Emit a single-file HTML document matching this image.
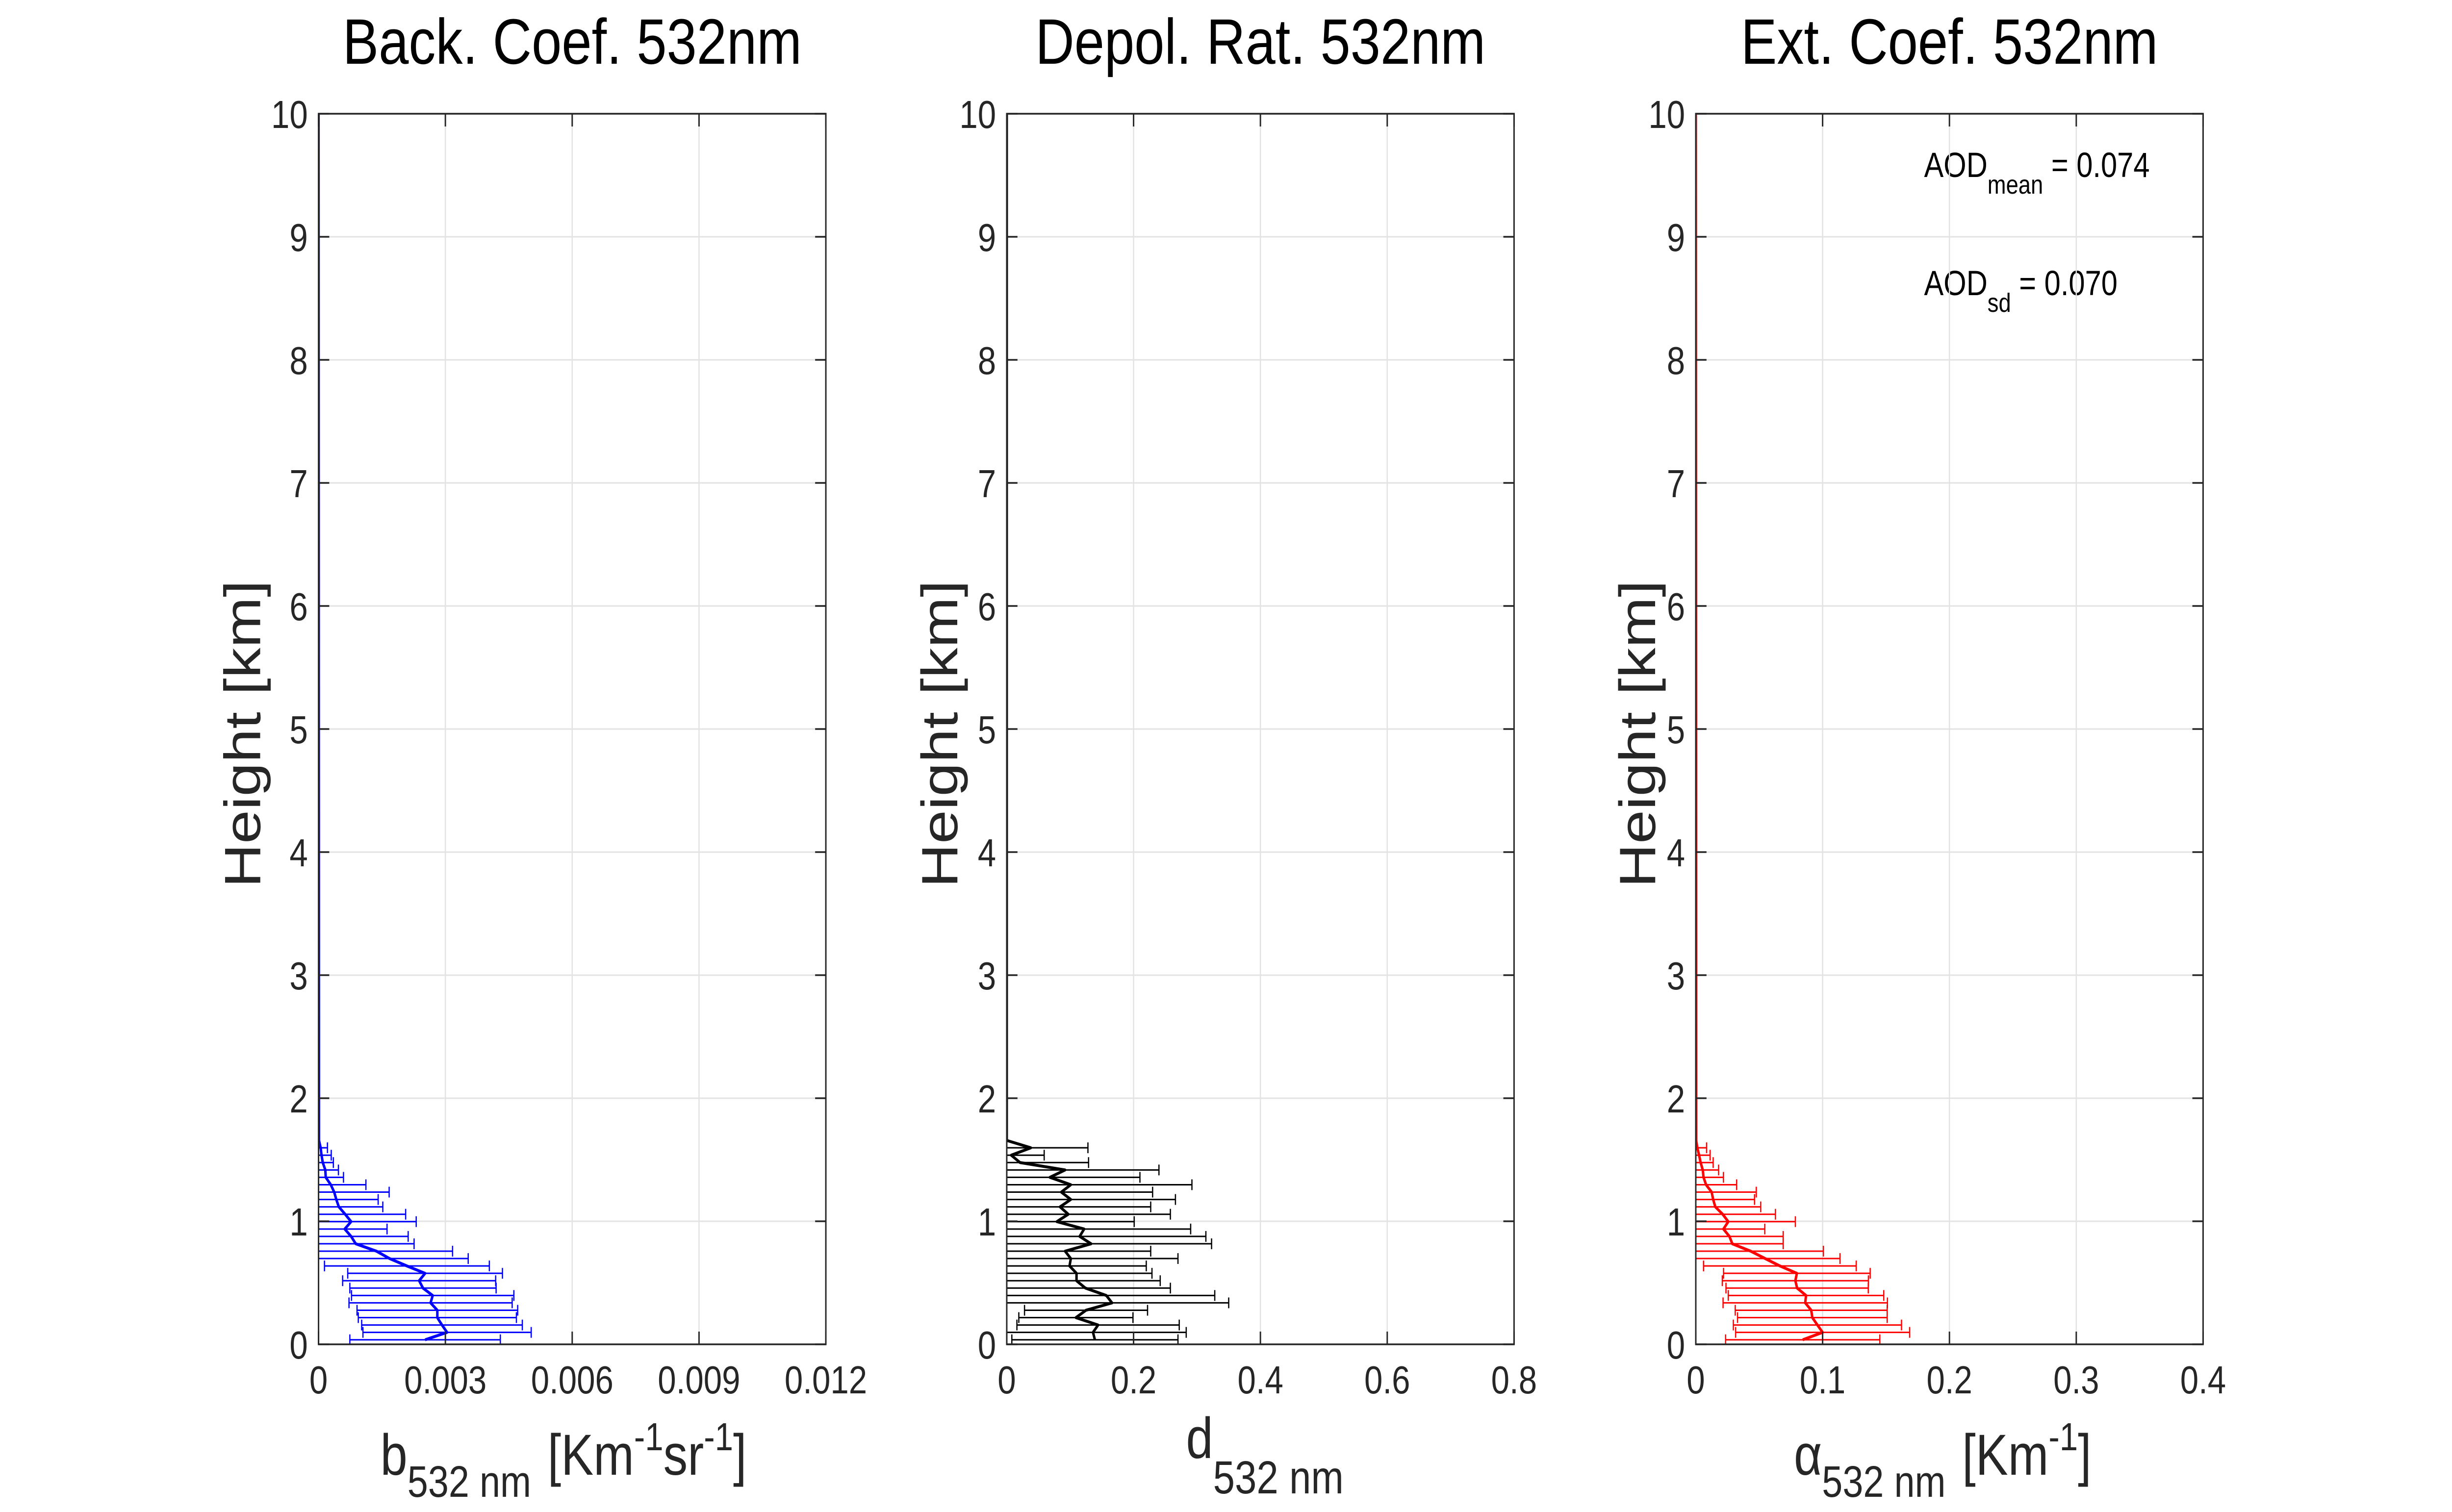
<!DOCTYPE html>
<html><head><meta charset="utf-8">
<style>
html,body{margin:0;padding:0;background:#fff;width:100%;height:100%;overflow:hidden;}
svg{display:block;font-family:"Liberation Sans",Arial,sans-serif;position:fixed;left:0;top:0;width:100vw;height:100vh;}
</style></head>
<body>
<svg id="fig" xmlns="http://www.w3.org/2000/svg" viewBox="0 0 5950 3084" preserveAspectRatio="none">
<rect width="5950" height="3084" fill="#fff"/>
<text x="923" y="3008" font-size="118" fill="#262626">b<tspan dy="45" font-size="90">532 nm</tspan><tspan dy="-45" dx="40">[Km</tspan><tspan dy="-50" font-size="80">-1</tspan><tspan dy="50">sr</tspan><tspan dy="-50" font-size="80">-1</tspan><tspan dy="50">]</tspan></text>
<text x="2878" y="2974" font-size="118" fill="#262626">d<tspan dy="72" font-size="95">532 nm</tspan></text>
<text x="4353" y="3008" font-size="118" fill="#262626">α<tspan dy="45" font-size="90">532 nm</tspan><tspan dy="-45" dx="40">[Km</tspan><tspan dy="-50" font-size="80">-1</tspan><tspan dy="50">]</tspan></text>
<text x="4669" y="361" font-size="71" fill="#000">AOD<tspan dy="34" font-size="54">mean</tspan><tspan dy="-34"> = 0.074</tspan></text>
<text x="4669" y="602" font-size="71" fill="#000">AOD<tspan dy="34" font-size="54">sd</tspan><tspan dy="-34"> = 0.070</tspan></text>
</svg>
<script>
// ---- data ----
const heightStart = 0.037;
const heightStep = 0.06;
const backMean = [2.52,3.04,2.92,2.81,2.81,2.65,2.70,2.47,2.38,2.52,2.09,1.68,1.37,0.88,0.77,0.62,0.77,0.63,0.48,0.42,0.37,0.29,0.17,0.16,0.10,0.07,0.05,0.01]; // x1e-3
const backSd   = [1.78,1.99,1.90,1.87,1.90,1.93,1.92,1.73,1.81,1.83,1.95,1.86,1.80,1.38,1.35,1.00,1.54,1.43,1.04,0.99,1.30,0.83,0.42,0.31,0.25,0.23,0.16,0];
const depMean = [0.139,0.136,0.144,0.109,0.125,0.166,0.157,0.124,0.110,0.110,0.099,0.101,0.092,0.133,0.115,0.122,0.079,0.097,0.084,0.101,0.086,0.101,0.068,0.092,0.021,0.007,0.038,0];
const depSd   = [0.131,0.147,0.128,0.090,0.097,0.184,0.171,0.134,0.132,0.119,0.121,0.169,0.135,0.190,0.199,0.168,0.122,0.161,0.143,0.165,0.144,0.191,0.142,0.148,0.108,0.052,0.090,0];
const extMean = [0.0843,0.1000,0.0959,0.0919,0.0910,0.0863,0.0869,0.0799,0.0785,0.0797,0.0663,0.0547,0.0433,0.0288,0.0265,0.0218,0.0256,0.0212,0.0154,0.0137,0.0125,0.0081,0.0061,0.0055,0.0038,0.0026,0.0012,0.0003];
const extSd   = [0.0608,0.0686,0.0663,0.0590,0.0599,0.0648,0.0613,0.0561,0.0576,0.0578,0.0602,0.0590,0.0573,0.0401,0.0424,0.0326,0.0529,0.0416,0.0358,0.0326,0.0352,0.0241,0.0157,0.0125,0.0099,0.0087,0.0073,0];
const yTicks = [0,1,2,3,4,5,6,7,8,9,10];
const backTicks = [0,0.003,0.006,0.009,0.012];
const backTickLabels = ["0","0.003","0.006","0.009","0.012"];
const depTicks = [0,0.2,0.4,0.6,0.8];
const depTickLabels = ["0","0.2","0.4","0.6","0.8"];
const extTicks = [0,0.1,0.2,0.3,0.4];
const extTickLabels = ["0","0.1","0.2","0.3","0.4"];

const NS="http://www.w3.org/2000/svg";
const svg=document.getElementById('fig');
function mk(tag,attrs,parent){const e=document.createElementNS(NS,tag);for(const k in attrs)e.setAttribute(k,attrs[k]);(parent||svg).appendChild(e);return e;}

const TOP=232, BOT=2742, W=1231;
function yS(h){return BOT-(BOT-TOP)*h/10;}

const panels=[
 {key:'back',x0:773,xmax:0.012,ticks:backTicks,labels:backTickLabels,mean:backMean.map(v=>v*1e-3),sd:backSd.map(v=>v*1e-3),color:'#0000ff',title:'Back. Coef. 532nm',ylab:587},
 {key:'depol',x0:2443,xmax:0.8,ticks:depTicks,labels:depTickLabels,mean:depMean,sd:depSd,color:'#000000',title:'Depol. Rat. 532nm',ylab:2279},
 {key:'ext',x0:4115,xmax:0.4,ticks:extTicks,labels:extTickLabels,mean:extMean,sd:extSd,color:'#ff0000',title:'Ext. Coef. 532nm',ylab:3972}
];

panels.forEach((p,pi)=>{
  const xS=v=>p.x0+W*v/p.xmax;
  const g=mk('g',{});
  
  
  yTicks.forEach(t=>{const l=mk('line',{x1:p.x0,x2:p.x0+W,y1:yS(t),y2:yS(t),stroke:'#e3e3e3','stroke-width':3},g);
    
    });
  p.ticks.forEach(t=>{const l=mk('line',{x1:xS(t),x2:xS(t),y1:TOP,y2:BOT,stroke:'#e3e3e3','stroke-width':3},g);
    
    });
  const cp=mk('clipPath',{id:'clip'+pi},g);
  mk('rect',{x:p.x0,y:TOP-5,width:W,height:BOT-TOP+5},cp);
  const dg=mk('g',{'clip-path':'url(#clip'+pi+')'},g);
  p.mean.forEach((m,i)=>{
    if(p.sd[i]<=0) return;
    const h=heightStart+heightStep*i, y=yS(h);
    const lo=Math.max(0,m-p.sd[i]), hi=m+p.sd[i];
    const e=mk('g',{},dg);
    
    
    mk('line',{x1:xS(lo),x2:xS(hi),y1:y,y2:y,stroke:p.color,'stroke-width':3},e);
    mk('line',{x1:xS(hi),x2:xS(hi),y1:y-11,y2:y+11,stroke:p.color,'stroke-width':3},e);
    if(m-p.sd[i]>0) mk('line',{x1:xS(lo),x2:xS(lo),y1:y-11,y2:y+11,stroke:p.color,'stroke-width':3},e);
  });
  let pts=p.mean.map((m,i)=>xS(m)+','+yS(heightStart+heightStep*i));
  pts.push(xS(0)+','+yS(10));
  const pl=mk('polyline',{points:pts.join(' '),fill:'none',stroke:p.color,'stroke-width':6,'stroke-linejoin':'round'},dg);
  
  
  const box=mk('rect',{x:p.x0,y:TOP,width:W,height:BOT-TOP,fill:'none',stroke:'#262626','stroke-width':3.5},g);
  
  
  yTicks.forEach(t=>{
    const y=yS(t);
    mk('line',{x1:p.x0,x2:p.x0+26,y1:y,y2:y,stroke:'#262626','stroke-width':3.5},g);
    mk('line',{x1:p.x0+W-26,x2:p.x0+W,y1:y,y2:y,stroke:'#262626','stroke-width':3.5},g);
    const tx=mk('text',{x:p.x0-26,y:y+29,'text-anchor':'end','font-size':80,fill:'#262626'},g);
    tx.textContent=String(t);
    
    
  });
  p.ticks.forEach((t,k)=>{
    const x=xS(t);
    mk('line',{x1:x,x2:x,y1:BOT,y2:BOT-26,stroke:'#262626','stroke-width':3.5},g);
    mk('line',{x1:x,x2:x,y1:TOP,y2:TOP+26,stroke:'#262626','stroke-width':3.5},g);
    const tx=mk('text',{x:x,y:2842,'text-anchor':'middle','font-size':80,fill:'#262626'},g);
    tx.textContent=p.labels[k];
    
    
  });
  const ti=mk('text',{x:p.x0+W/2,y:130,'text-anchor':'middle','font-size':131,fill:'#000'},g);
  ti.textContent=p.title;
  
  
  const yl=mk('text',{x:0,y:0,'text-anchor':'middle','font-size':124,fill:'#262626',transform:'translate('+(p.ylab+44)+',1497) rotate(-90)'},g);
  yl.textContent='Height  [km]';
  
  
});
</script>
</body></html>
